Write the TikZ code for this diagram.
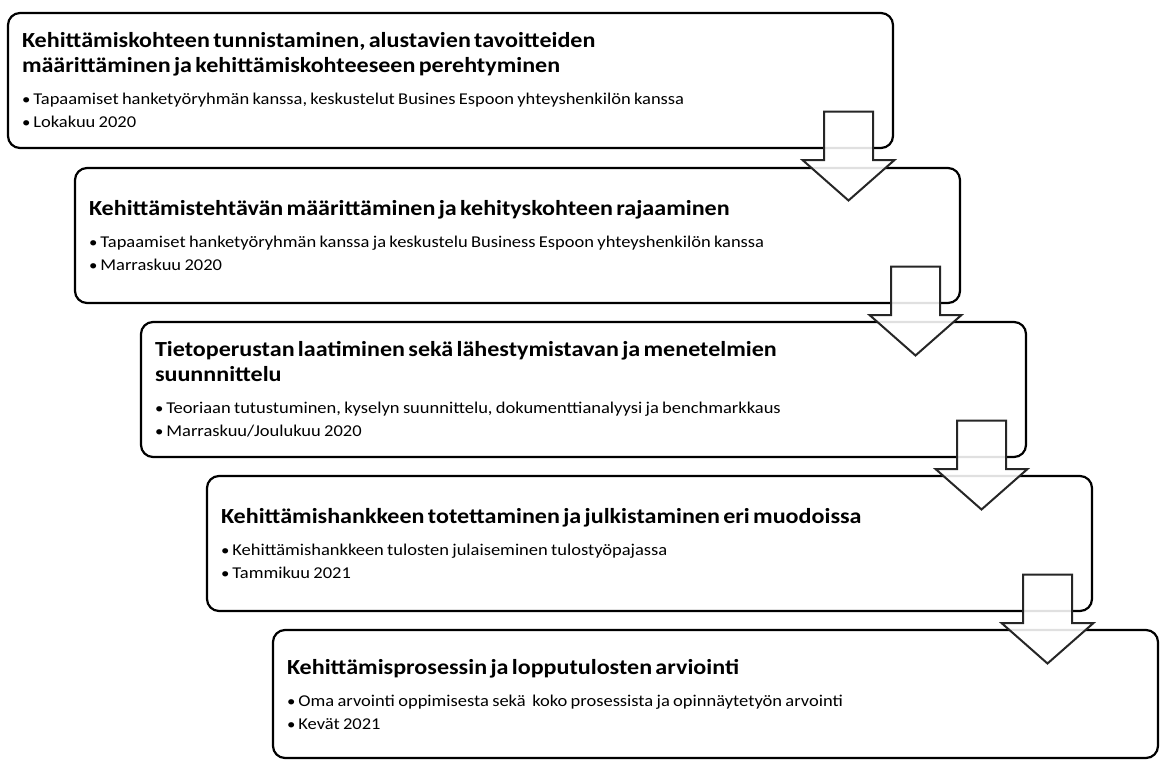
\documentclass[tikz,border=0pt]{standalone}
\usepackage{fontspec}
\setmainfont{Carlito}[FakeStretch=1.12]
\usetikzlibrary{calc}

\tikzset{
  phase/.style={draw=black, line width=2.2pt, rounded corners=12pt, anchor=north west, outer sep=0pt,
    text width=857pt, inner xsep=14pt, inner ysep=0pt, minimum height=135pt, align=left, fill=white},
  blockarrow/.style={draw=black!85, line width=2pt, fill=white, fill opacity=0.88, line join=miter}
}
\newcommand{\phasetitle}[1]{{\fontsize{21.5}{25}\selectfont\bfseries #1\par}\vspace{9pt}}
\newcommand{\phaseitem}[1]{{\fontsize{16.5}{23}\selectfont{\fontsize{15}{23}\selectfont\textbullet}\hspace{3pt}#1\par}}
\newcommand{\downarrowat}[1]{%
  \draw[blockarrow] ($(#1.south east)+(-69,-36.5)$) -- ($(#1.south east)+(-20,-36.5)$)
    -- ($(#1.south east)+(-20,12)$) -- ($(#1.south east)+(1.5,12)$)
    -- ($(#1.south east)+(-44.5,52.5)$) -- ($(#1.south east)+(-90.5,12)$)
    -- ($(#1.south east)+(-69,12)$) -- cycle;}

\begin{document}
\begin{tikzpicture}[x=1pt,y=-1pt]
    \useasboundingbox (0,0) rectangle (1160,760);

    %phases
    \node[phase] (b1) at (8,13) {\phasetitle{Kehittämiskohteen tunnistaminen, alustavien tavoitteiden\\ määrittäminen ja kehittämiskohteeseen perehtyminen}
      \phaseitem{Tapaamiset hanketyöryhmän kanssa, keskustelut Busines Espoon yhteyshenkilön kanssa}
      \phaseitem{Lokakuu 2020}};
    \node[phase] (b2) at (75,168) {\phasetitle{Kehittämistehtävän määrittäminen ja kehityskohteen rajaaminen}
      \phaseitem{Tapaamiset hanketyöryhmän kanssa ja keskustelu Business Espoon yhteyshenkilön kanssa}
      \phaseitem{Marraskuu 2020}};
    \node[phase] (b3) at (141,322) {\phasetitle{Tietoperustan laatiminen sekä lähestymistavan ja menetelmien\\ suunnnittelu}
      \phaseitem{Teoriaan tutustuminen, kyselyn suunnittelu, dokumenttianalyysi ja benchmarkkaus}
      \phaseitem{Marraskuu/Joulukuu 2020}};
    \node[phase] (b4) at (207,476) {\phasetitle{Kehittämishankkeen totettaminen ja julkistaminen eri muodoissa}
      \phaseitem{Kehittämishankkeen tulosten julaiseminen tulostyöpajassa}
      \phaseitem{Tammikuu 2021}};
    \node[phase, minimum height=128pt] (b5) at (273,630) {\phasetitle{Kehittämisprosessin ja lopputulosten arviointi}
      \phaseitem{Oma arvointi oppimisesta sekä\ \ koko prosessista ja opinnäytetyön arvointi}
      \phaseitem{Kevät 2021}};

    %arrows
    \downarrowat{b1}
    \downarrowat{b2}
    \downarrowat{b3}
    \downarrowat{b4}

\end{tikzpicture}
\end{document}
